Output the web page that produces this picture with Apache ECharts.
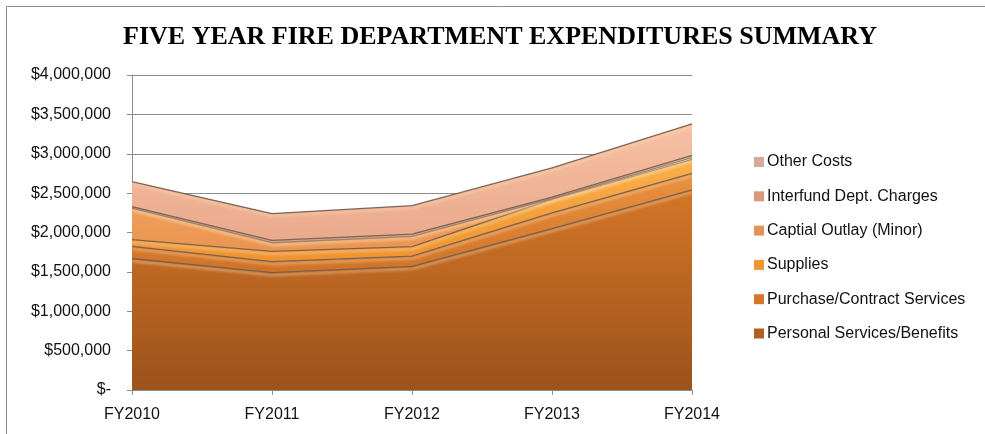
<!DOCTYPE html>
<html>
<head>
<meta charset="utf-8">
<title>Five Year Fire Department Expenditures Summary</title>
<script src="https://cdn.jsdelivr.net/npm/echarts@6/dist/echarts.min.js"></script>
<style>
  html, body { margin: 0; padding: 0; background: #ffffff; }
  #chart { width: 985px; height: 434px; }
</style>
</head>
<body>
<div id="chart"></div>
<script>
// Fiscal years on the horizontal axis
const years = ['FY2010', 'FY2011', 'FY2012', 'FY2013', 'FY2014'];

// Expenditure categories, stacked bottom to top (dollars)
const personalServices = [1670000, 1490000, 1570000, 2050000, 2540000];
const purchaseContract = [155000, 140000, 130000, 200000, 210000];
const supplies         = [85000, 130000, 120000, 170000, 180000];
const capitalOutlay    = [400000, 110000, 130000, 10000, 20000];
const interfundCharges = [20000, 30000, 30000, 20000, 30000];
const otherCosts       = [315000, 340000, 360000, 370000, 400000];

// Value axis ticks
const yTicks = [0, 500000, 1000000, 1500000, 2000000, 2500000, 3000000, 3500000, 4000000];

const seriesNames = [
  'Personal Services/Benefits',
  'Purchase/Contract Services',
  'Supplies',
  'Captial Outlay (Minor)',
  'Interfund Dept. Charges',
  'Other Costs'
];
const seriesData = [personalServices, purchaseContract, supplies, capitalOutlay, interfundCharges, otherCosts];

// Fill styles: [legend swatch, gradient top, gradient bottom]
const fills = [
  ['#b2601f', '#d37628', '#9c521b'],
  ['#d5762a', '#e99242', '#d07226'],
  ['#ee9631', '#f9b04a', '#ef9330'],
  ['#e5925a', '#f3a86a', '#eb9450'],
  ['#d99a7c', '#e6ae92', '#d69678'],
  ['#d8a999', '#f6c0a4', '#eaa98c']
];

function money(v) {
  if (v === 0) return '$-';
  return '$' + v.toLocaleString('en-US');
}

const chart = echarts.init(document.getElementById('chart'), null, { renderer: 'canvas' });

const series = seriesNames.map(function (name, i) {
  return {
    name: name,
    type: 'line',
    stack: 'total',
    data: seriesData[i],
    symbol: 'none',
    smooth: false,
    itemStyle: { color: fills[i][0] },
    // dark rim with a soft light edge beneath it, giving each band a bevelled look
    lineStyle: {
      color: '#6f5a50',
      width: 1.3,
      opacity: 0.9,
      shadowColor: 'rgba(255, 226, 180, 0.9)',
      shadowBlur: 3,
      shadowOffsetY: 2.5
    },
    areaStyle: {
      opacity: 1,
      color: new echarts.graphic.LinearGradient(0, 0, 0, 1, [
        { offset: 0, color: fills[i][1] },
        { offset: 1, color: fills[i][2] }
      ])
    },
    emphasis: { disabled: true },
    z: 2
  };
});

chart.setOption({
  animation: false,
  backgroundColor: '#ffffff',
  textStyle: { fontFamily: 'Liberation Sans' },
  graphic: [
    {
      type: 'rect',
      shape: { x: 6.5, y: 6.5, width: 1000, height: 500 },
      style: { fill: 'none', stroke: '#8c8c8c', lineWidth: 1 },
      silent: true,
      z: 0
    },
    {
      type: 'text',
      x: 500,
      y: 37,
      style: {
        text: 'FIVE YEAR FIRE DEPARTMENT EXPENDITURES SUMMARY',
        font: 'bold 26px "Liberation Serif"',
        fill: '#000000',
        textAlign: 'center',
        textVerticalAlign: 'middle'
      },
      silent: true,
      z: 10
    }
  ],
  grid: { left: 132, right: 293, top: 75, bottom: 44, containLabel: false },
  legend: {
    orient: 'vertical',
    left: 749,
    top: 149,
    icon: 'rect',
    itemWidth: 10,
    itemHeight: 10,
    itemGap: 18.3,
    selectedMode: false,
    data: seriesNames.slice().reverse(),
    textStyle: { fontSize: 16, color: '#111111', lineHeight: 16, padding: [0, 0, 0, -2] }
  },
  xAxis: {
    type: 'category',
    data: years,
    boundaryGap: false,
    axisLine: { lineStyle: { color: '#8c8c8c', width: 1 } },
    axisTick: { show: true, alignWithLabel: true, length: 5, lineStyle: { color: '#8c8c8c' } },
    axisLabel: { color: '#111111', fontSize: 16, margin: 17 },
    splitLine: { show: false }
  },
  yAxis: {
    type: 'value',
    min: yTicks[0],
    max: yTicks[yTicks.length - 1],
    interval: yTicks[1] - yTicks[0],
    axisLine: { show: true, lineStyle: { color: '#8c8c8c', width: 1 } },
    axisTick: { show: true, length: 5, lineStyle: { color: '#8c8c8c' } },
    axisLabel: { color: '#111111', fontSize: 16, margin: 21, formatter: money },
    splitLine: { show: true, lineStyle: { color: '#8c8c8c', width: 1 } }
  },
  series: series
});
</script>
</body>
</html>
